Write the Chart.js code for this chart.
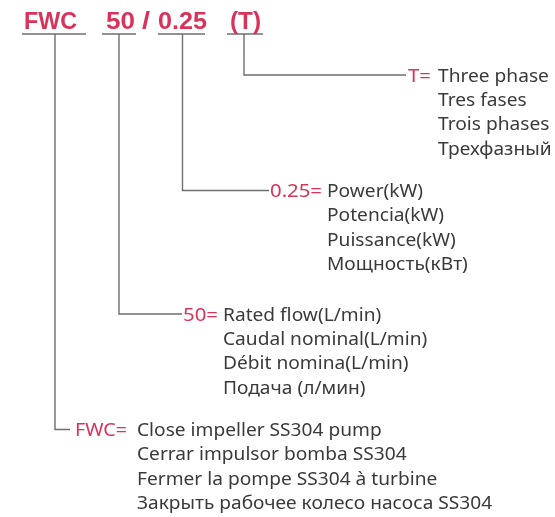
<!DOCTYPE html>
<html><head><meta charset="utf-8">
<script src="https://cdn.jsdelivr.net/npm/chart.js@4"></script>
<style>html,body{margin:0;padding:0;background:#fff}#wrap{width:555px;height:517px}</style>
</head><body><div id="wrap"><canvas id="c" width="555" height="517"></canvas></div>
<script>
// ---- content ----
const codeParts = ['FWC', '50', '0.25', '(T)'];
const separator = '/';
const keyLabels = ['FWC=', '50=', '0.25=', 'T='];
const descFWC = ['Close impeller SS304 pump', 'Cerrar impulsor bomba SS304', 'Fermer la pompe SS304 à turbine', 'Закрыть рабочее колесо насоса SS304'];
const desc50 = ['Rated flow(L/min)', 'Caudal nominal(L/min)', 'Débit nomina(L/min)', 'Подача (л/мин)'];
const desc025 = ['Power(kW)', 'Potencia(kW)', 'Puissance(kW)', 'Мощность(кВт)'];
const descT = ['Three phase', 'Tres fases', 'Trois phases', 'Трехфазный'];

// ---- layout (diagram space = 555 x 517) ----
const RED = '#d8335a', TEXT = '#3a3a3a', LINE = '#6e6e6e';
const titleBase = 29, underY = 34;
const titleLayout = [
  {tx: 24, tw: 53, u0: 22, u1: 86, vx: 55},
  {tx: 106, tw: 29, u0: 102, u1: 136, vx: 119},
  {tx: 158, tw: 49, u0: 158, u1: 205, vx: 182.5},
  {tx: 230, tw: 31, u0: 227, u1: 263, vx: 244}
];
const sepLayout = {tx: 142, tw: 8};
const blockLayout = [ // same order as codeParts
  {ly: 429.5, hEnd: 70, lx: 75, lw: 52, tx: 137},
  {ly: 314, hEnd: 182, lx: 183, lw: 35, tx: 223},
  {ly: 190.5, hEnd: 269, lx: 270, lw: 52, tx: 327},
  {ly: 75, hEnd: 406, lx: 408, lw: 23, tx: 438}
];
const descs = [descFWC, desc50, desc025, descT];
const lineGap = 24.4, baseOff = 6.5;
const BODY_FONT = '17.5px "Noto Sans"';
const TITLE_FONT = 'bold 23px "Liberation Sans"';

// ---- datasets: underlines + connectors ----
const datasets = [];
codeParts.forEach((c, i) => {
  const t = titleLayout[i], b = blockLayout[i];
  datasets.push({data: [{x: t.u0, y: underY}, {x: t.u1, y: underY}]});
  datasets.push({data: [{x: t.vx, y: underY}, {x: t.vx, y: b.ly}, {x: b.hEnd, y: b.ly}]});
});
datasets.forEach(d => Object.assign(d, {showLine: true, borderColor: LINE, borderWidth: 1.4, pointRadius: 0, fill: false, tension: 0}));

function fitText(ctx, text, x, y, sx) {
  ctx.save(); ctx.translate(x, y); ctx.scale(sx, 1); ctx.fillText(text, 0, 0); ctx.restore();
}

const textPlugin = {
  id: 'texts',
  afterDatasetsDraw(chart) {
    const ctx = chart.ctx, X = chart.scales.x, Y = chart.scales.y;
    ctx.save();
    ctx.textBaseline = 'alphabetic'; ctx.textAlign = 'left';
    // title
    ctx.font = TITLE_FONT; ctx.fillStyle = RED;
    codeParts.forEach((c, i) => {
      const t = titleLayout[i];
      fitText(ctx, c, X.getPixelForValue(t.tx), Y.getPixelForValue(titleBase), t.tw / ctx.measureText(c).width);
    });
    fitText(ctx, separator, X.getPixelForValue(sepLayout.tx), Y.getPixelForValue(titleBase), sepLayout.tw / ctx.measureText(separator).width);
    // body scale factor (Myriad-like condensed)
    ctx.font = BODY_FONT;
    const s = (240 / ctx.measureText(descFWC[0]).width + 362 / ctx.measureText(descFWC[3]).width) / 2;
    codeParts.forEach((c, i) => {
      const b = blockLayout[i], base = b.ly + baseOff;
      ctx.fillStyle = RED;
      fitText(ctx, keyLabels[i], X.getPixelForValue(b.lx), Y.getPixelForValue(base), b.lw / ctx.measureText(keyLabels[i]).width);
      ctx.fillStyle = TEXT;
      descs[i].forEach((line, j) => {
        fitText(ctx, line, X.getPixelForValue(b.tx), Y.getPixelForValue(base + j * lineGap), s);
      });
    });
    ctx.restore();
  }
};

new Chart(document.getElementById('c'), {
  type: 'scatter',
  data: {datasets},
  options: {
    responsive: false, devicePixelRatio: 1, animation: false,
    layout: {padding: 0},
    plugins: {legend: {display: false}, tooltip: {enabled: false}},
    scales: {
      x: {type: 'linear', min: 0, max: 555, display: false},
      y: {type: 'linear', min: 0, max: 517, reverse: true, display: false}
    }
  },
  plugins: [textPlugin]
});
</script></body></html>
